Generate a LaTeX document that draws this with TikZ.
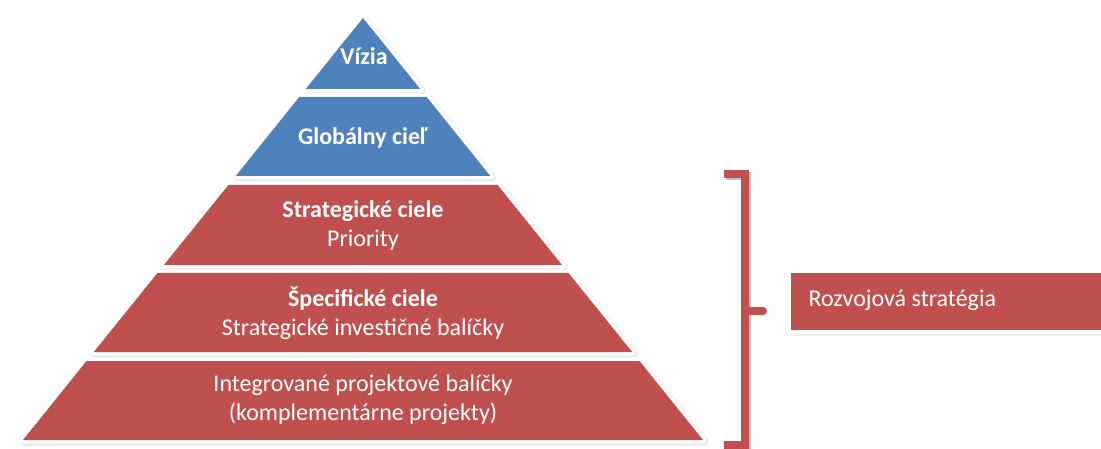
\documentclass[tikz,border=0pt]{standalone}
\usepackage{fontspec}
\setmainfont{Carlito}
\usetikzlibrary{shadows}
\definecolor{pyrblue}{HTML}{4F81BD}
\definecolor{pyrred}{HTML}{C0504D}
\begin{document}
\begin{tikzpicture}[x=1pt, y=-1pt]
        \tikzstyle{layer} = [draw=white, line width=7pt, line join=round,
            drop shadow={shadow xshift=1.5pt, shadow yshift=-1.5pt, opacity=.22, fill=black!40, draw=black!40, line width=8pt, line join=round}]
        \tikzstyle{label} = [text=white, align=center, font=\fontsize{24}{29}\selectfont]
        \useasboundingbox (0,0) rectangle (1101,449);

        % pyramid layers
        \filldraw[layer, fill=pyrblue] (363,18) -- (420.2,89) -- (305.8,89) -- cycle;
        \filldraw[layer, fill=pyrblue] (299.3,97) -- (426.7,97) -- (490.3,176) -- (235.7,176) -- cycle;
        \filldraw[layer, fill=pyrred] (228.4,185) -- (497.6,185) -- (562.1,265) -- (163.9,265) -- cycle;
        \filldraw[layer, fill=pyrred] (157.5,273) -- (568.5,273) -- (632.2,352) -- (93.8,352) -- cycle;
        \filldraw[layer, fill=pyrred] (86.5,361) -- (639.5,361) -- (703,440) -- (23,440) -- cycle;
        \fill[pyrblue] (363,18) -- (420.2,89) -- (305.8,89) -- cycle;
        \fill[pyrblue] (299.3,97) -- (426.7,97) -- (490.3,176) -- (235.7,176) -- cycle;
        \fill[pyrred] (228.4,185) -- (497.6,185) -- (562.1,265) -- (163.9,265) -- cycle;
        \fill[pyrred] (157.5,273) -- (568.5,273) -- (632.2,352) -- (93.8,352) -- cycle;
        \fill[pyrred] (86.5,361) -- (639.5,361) -- (703,440) -- (23,440) -- cycle;

        \node (vizia) [label] at (364,56) {\textbf{Vízia}};
        \node (globcl) [label] at (363,138) {\textbf{Globálny cieľ}};
        \node (strat) [label] at (363,226) {\textbf{Strategické ciele}\\Priority};
        \node (spec) [label] at (363,313) {\textbf{Špecifické ciele}\\Strategické investičné balíčky};
        \node (integ) [label] at (363,400) {Integrované projektové balíčky\\(komplementárne projekty)};

        % bracket
        \coordinate (brtop) at (724,174);
        \coordinate (brbot) at (724,445);
        \coordinate (brmid) at (745,311);
        \draw[black!25, line width=8pt] ([shift={(2,2)}]brtop) -- ++(21,0) |- ([shift={(2,2)}]brbot);
        \draw[pyrred, line width=8pt] (brtop) -- ++(21,0) |- (brbot);
        \draw[pyrred, line width=8pt, line cap=round] (brmid) -- ++(18,0);

        % label box
        \filldraw[layer, fill=pyrred, line width=8pt, rounded corners=2pt] (791,273) rectangle (1115,330);
        \fill[pyrred] (791,273) rectangle (1115,330);
        \node (rozvoj) [label, anchor=west] at (805,300) {Rozvojová stratégia};
    \end{tikzpicture}
\end{document}
